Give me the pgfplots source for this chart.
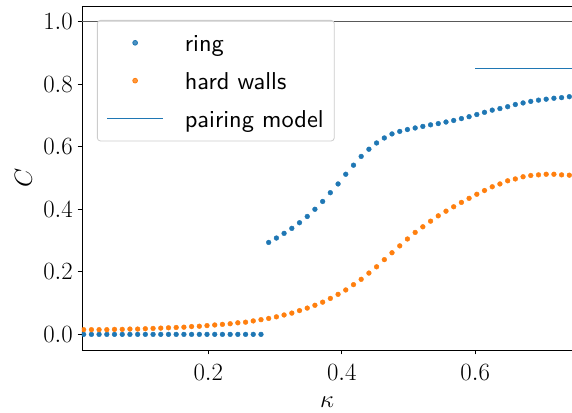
\documentclass[border=0pt]{standalone}
\usepackage[no-math]{fontspec}
\setsansfont{lmsans10-regular}[Extension=.otf]
\usepackage{pgfplots}
\usepackage{pgfplotstable}
\pgfplotsset{compat=1.18}

\definecolor{tabblue}{HTML}{1F77B4}
\definecolor{taborange}{HTML}{FF7F0E}

% kappa, C(ring), C(hard walls)
\pgfplotstableread{
x ring walls
0.0133 0.000 0.015
0.0249 0.000 0.015
0.0364 0.000 0.015
0.0480 0.000 0.015
0.0595 0.000 0.016
0.0711 0.000 0.016
0.0826 0.000 0.017
0.0942 0.000 0.017
0.1057 0.000 0.018
0.1173 0.000 0.019
0.1288 0.000 0.020
0.1404 0.000 0.021
0.1519 0.000 0.022
0.1635 0.000 0.023
0.1750 0.000 0.025
0.1866 0.000 0.026
0.1981 0.000 0.028
0.2097 0.000 0.030
0.2212 0.000 0.032
0.2328 0.000 0.034
0.2443 0.000 0.037
0.2559 0.000 0.039
0.2674 0.000 0.043
0.2790 0.000 0.047
0.2905 0.294 0.051
0.3021 0.308 0.056
0.3136 0.323 0.062
0.3252 0.339 0.068
0.3367 0.357 0.076
0.3483 0.377 0.084
0.3598 0.400 0.093
0.3714 0.425 0.103
0.3829 0.453 0.115
0.3945 0.481 0.128
0.4060 0.512 0.142
0.4176 0.541 0.159
0.4291 0.569 0.176
0.4407 0.592 0.196
0.4522 0.612 0.216
0.4638 0.628 0.239
0.4753 0.641 0.261
0.4869 0.649 0.283
0.4984 0.655 0.305
0.5100 0.660 0.326
0.5215 0.665 0.344
0.5331 0.670 0.362
0.5446 0.674 0.379
0.5562 0.679 0.394
0.5677 0.684 0.408
0.5793 0.690 0.422
0.5908 0.696 0.435
0.6024 0.703 0.448
0.6139 0.710 0.460
0.6255 0.717 0.472
0.6370 0.722 0.481
0.6486 0.728 0.491
0.6601 0.735 0.497
0.6717 0.740 0.504
0.6832 0.745 0.508
0.6948 0.749 0.510
0.7063 0.752 0.512
0.7179 0.755 0.512
0.7294 0.757 0.510
0.7410 0.760 0.509
}\datatable

\newcommand{\bigfont}{\fontsize{24.5}{29}\selectfont}

\begin{document}
\begin{tikzpicture}
\begin{axis}[
  name=ax,
  scale only axis,
  width=490bp, height=344bp,
  xmin=0.0108, xmax=0.745,
  ymin=-0.05, ymax=1.05,
  axis x line*=box, axis y line*=left,
  axis line style={-, black, line width=0.8pt},
  tick pos=left,
  tick align=outside,
  major tick length=4.5pt,
  tick style={black, line width=0.8pt},
  xtick={0.2,0.4,0.6},
  ytick={0,0.2,0.4,0.6,0.8,1.0},
  /pgf/number format/fixed,
  /pgf/number format/fixed zerofill,
  /pgf/number format/precision=1,
  tick label style={font=\bigfont, inner sep=0pt},
  xticklabel style={yshift=-10pt},
  yticklabel style={xshift=-4.5pt},
  label style={font=\bigfont, inner sep=0pt},
  xlabel={$\kappa$},
  ylabel={$C$},
  xlabel style={at={(axis description cs:0.5,-0.1366)}, anchor=north},
  ylabel style={at={(axis description cs:-0.102,0.5)}, anchor=south},
  clip marker paths=true,
  legend cell align=left,
  legend image code/.code={\draw[mark repeat=2,mark phase=2,#1] plot coordinates {(0pt,0pt) (28pt,0pt) (56pt,0pt)};},
  legend style={
    at={(axis description cs:0.0306,0.9593)}, anchor=north west,
    draw=black!20, line width=0.8pt, rounded corners=3pt,
    fill=white, fill opacity=0.8, text opacity=1, draw opacity=1,
    inner xsep=9pt, inner ysep=3.5pt, row sep=0pt,
    font=\sffamily\bigfont,
    /tikz/every odd column/.append style={column sep=19.5pt},
    nodes={inner xsep=1.5pt, inner ysep=0pt, text height=28.2pt, text depth=9.8pt},
  },
]
% reference level C = 1
\addplot[black!65, line width=1.1pt, forget plot] coordinates {(0,1) (0.8,1)};

\addplot[only marks, mark=*, mark size=2.4pt, color=tabblue, mark options={draw=tabblue, fill=tabblue}]
  table[x=x, y=ring] {\datatable};
\addlegendentry{ring}

\addplot[only marks, mark=*, mark size=2.4pt, color=taborange, mark options={draw=taborange, fill=taborange}]
  table[x=x, y=walls] {\datatable};
\addlegendentry{hard walls}

\addplot[tabblue, line width=1.8pt, mark=none] coordinates {(0.6,0.85) (0.8,0.85)};
\addlegendentry{pairing model}
\end{axis}
\pgfresetboundingbox
\path[use as bounding box] ([xshift=-82bp,yshift=-63bp]ax.south west) rectangle ([yshift=6bp]ax.north east);
\end{tikzpicture}
\end{document}
